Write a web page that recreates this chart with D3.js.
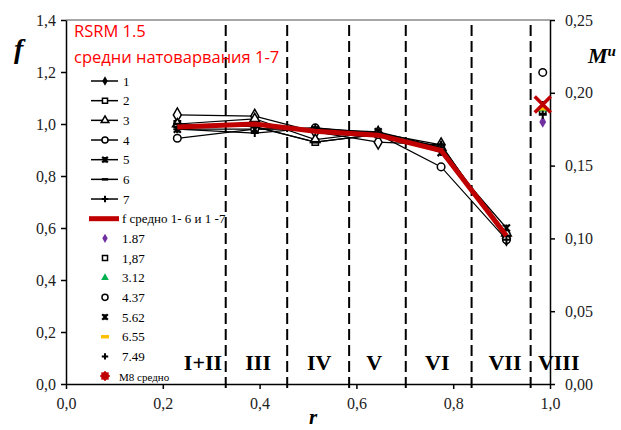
<!DOCTYPE html>
<html>
<head>
<meta charset="utf-8">
<script src="https://cdn.jsdelivr.net/npm/d3@7"></script>
<style>
  body { margin: 0; background: #fff; }
  svg { display: block; }
  .tick text { font-family: "Liberation Serif", "Times New Roman", serif; font-size: 16px; fill: #222; }
</style>
</head>
<body>
<div id="chart"></div>
<script>
// r positions of the measured sections
const rValues = [0.23, 0.39, 0.515, 0.645, 0.775, 0.91];

// f for loads 1..7
const s1 = [1.035, 1.03, 0.97, 0.93, 0.92, 0.56];
const s2 = [1.00, 0.99, 0.93, 0.96, 0.91, 0.57];
const s3 = [1.00, 1.02, 0.94, 0.97, 0.91, 0.58];
const s4 = [0.945, 0.98, 0.985, 0.96, 0.835, 0.555];
const s5 = [0.98, 0.98, 0.98, 0.97, 0.89, 0.60];
const s6 = [1.00, 0.99, 0.93, 0.96, 0.91, 0.57];
const s7 = [0.98, 0.965, 0.985, 0.965, 0.92, 0.555];
const fAvg = [0.988, 1.0, 0.972, 0.957, 0.898, 0.57];

const seriesNames = ["1", "2", "3", "4", "5", "6", "7"];
const seriesMarks = ["diamond", "square", "triangle", "circle", "xstar", "dash", "plus"];

// M8 (right axis)
const rM8 = 0.985;
const m8Names = ["1.87", "1,87", "3.12", "4.37", "5.62", "6.55", "7.49", "M8 средно"];
const m8Values = [0.180, 0.188, 0.189, 0.214, 0.192, 0.189, 0.185, 0.192];
const m8Marks = ["diamondF", "square", "triangleF", "circle", "xstar", "dashW", "plus", "bigx"];
const m8Colors = ["#7030a0", "#000", "#00b050", "#000", "#000", "#ffc000", "#000", "#c00000"];

// section borders and labels
const borders = [0.33, 0.457, 0.585, 0.702, 0.838, 0.96];
const zoneNames = ["I+II", "III", "IV", "V", "VI", "VII", "VIII"];
const zoneCenters = [0.283, 0.397, 0.523, 0.637, 0.767, 0.907, 1.018];

const xTicks = [0, 0.2, 0.4, 0.6, 0.8, 1.0];
const yTicks = [0, 0.2, 0.4, 0.6, 0.8, 1.0, 1.2, 1.4];
const y2Ticks = [0, 0.05, 0.10, 0.15, 0.20, 0.25];

const W = 621, H = 430;
const svg = d3.select("#chart").append("svg").attr("width", W).attr("height", H);

const x = d3.scaleLinear().domain([0, 1]).range([66, 550]);
const y = d3.scaleLinear().domain([0, 1.4]).range([384, 20]);
const y2 = d3.scaleLinear().domain([0, 0.25]).range([384, 20]);

const comma = (d, n) => d3.format("." + n + "f")(d).replace(".", ",");

// top border
svg.append("line").attr("x1", 66).attr("x2", 550).attr("y1", 20).attr("y2", 20)
  .attr("stroke", "#a6a6a6").attr("stroke-width", 2);

// section dashed lines
svg.append("g").selectAll("line").data(borders).join("line")
  .attr("x1", d => x(d)).attr("x2", d => x(d))
  .attr("y1", 25).attr("y2", 389)
  .attr("stroke", "#000").attr("stroke-width", 2)
  .attr("stroke-dasharray", "11,5");

// axes
const xAxis = svg.append("g").attr("transform", "translate(0,384)")
  .call(d3.axisBottom(x).tickValues(xTicks).tickSize(5).tickSizeOuter(0).tickPadding(9).tickFormat(d => comma(d, 1)));
const yAxis = svg.append("g").attr("transform", "translate(66,0)")
  .call(d3.axisLeft(y).tickValues(yTicks).tickSize(5).tickSizeOuter(0).tickPadding(5).tickFormat(d => comma(d, 1)));
const y2Axis = svg.append("g").attr("transform", "translate(550,0)")
  .call(d3.axisRight(y2).tickValues(y2Ticks).tickSize(5).tickSizeOuter(0).tickPadding(10).tickFormat(d => comma(d, 2)));
[xAxis, yAxis, y2Axis].forEach(a => {
  a.select(".domain").attr("stroke", "#000").attr("stroke-width", 1.5);
  a.selectAll(".tick line").attr("stroke", "#000").attr("stroke-width", 1.5);
});

// zone labels
svg.append("g").selectAll("text").data(zoneNames).join("text")
  .attr("x", (d, i) => x(zoneCenters[i])).attr("y", 370)
  .attr("text-anchor", "middle")
  .attr("font-family", "Liberation Serif, Times New Roman, serif")
  .attr("font-weight", "bold").attr("font-size", 22)
  .text(d => d);

// marker drawing
function marker(g, type, cx, cy, color, k) {
  k = k || 1;
  const p = g.append("g").attr("transform", `translate(${cx},${cy})`);
  const sym = (t, s) => p.append("path").attr("d", d3.symbol().type(t).size(s * k * k)());
  switch (type) {
    case "diamond":
      sym(d3.symbolDiamond, 55).attr("fill", "#fff").attr("stroke", color).attr("stroke-width", 1.5); break;
    case "diamondF":
      sym(d3.symbolDiamond, 40).attr("fill", color); break;
    case "square":
      sym(d3.symbolSquare, 40).attr("fill", "#fff").attr("stroke", color).attr("stroke-width", 1.5); break;
    case "triangle":
      sym(d3.symbolTriangle, 40).attr("fill", "#fff").attr("stroke", color).attr("stroke-width", 1.5); break;
    case "triangleF":
      sym(d3.symbolTriangle, 40).attr("fill", color); break;
    case "circle":
      sym(d3.symbolCircle, 45).attr("fill", "#fff").attr("stroke", color).attr("stroke-width", 1.5); break;
    case "xstar":
      p.append("path").attr("d", `M${-3.5*k},${-3.5*k}L${3.5*k},${3.5*k}M${-3.5*k},${3.5*k}L${3.5*k},${-3.5*k}M0,${-3.5*k}L0,${3.5*k}`)
        .attr("stroke", color).attr("stroke-width", 2.2); break;
    case "dash":
      p.append("path").attr("d", `M${-4*k},0L${4*k},0`).attr("stroke", color).attr("stroke-width", 2.5); break;
    case "dashW":
      p.append("path").attr("d", `M${-5*k},0L${5*k},0`).attr("stroke", color).attr("stroke-width", 3.5); break;
    case "plus":
      p.append("path").attr("d", `M${-4*k},0L${4*k},0M0,${-4*k}L0,${4*k}`).attr("stroke", color).attr("stroke-width", 2); break;
    case "bigx":
      p.append("path").attr("d", `M${-8*k},${-8*k}L${8*k},${8*k}M${-8*k},${8*k}L${8*k},${-8*k}`)
        .attr("stroke", color).attr("stroke-width", 3.5 * k); break;
    case "star":
      p.append("circle").attr("r", 4).attr("fill", color);
      p.append("path").attr("d", "M-5,0L5,0M0,-5L0,5M-3.5,-3.5L3.5,3.5M-3.5,3.5L3.5,-3.5").attr("stroke", color).attr("stroke-width", 1.5); break;
  }
  return p;
}

// load lines
const allSeries = [s1, s2, s3, s4, s5, s6, s7];
const line = d3.line().x((d, i) => x(rValues[i])).y(d => y(d));
const plot = svg.append("g");
allSeries.forEach(s => {
  plot.append("path").datum(s).attr("d", line)
    .attr("fill", "none").attr("stroke", "#000").attr("stroke-width", 1.2);
});
allSeries.forEach((s, j) => {
  s.forEach((v, i) => marker(plot, seriesMarks[j], x(rValues[i]), y(v), "#000"));
});

// average line
plot.append("path").datum(fAvg).attr("d", line)
  .attr("fill", "none").attr("stroke", "#c00000").attr("stroke-width", 5)
  .attr("stroke-linejoin", "round");

// M8 points
m8Values.forEach((v, i) => marker(plot, m8Marks[i], x(rM8), y2(v), m8Colors[i]));

// legend
const lg = svg.append("g");
const rowY = i => 81 + i * 19.67;
seriesNames.forEach((n, i) => {
  lg.append("line").attr("x1", 91).attr("x2", 118).attr("y1", rowY(i)).attr("y2", rowY(i))
    .attr("stroke", "#000").attr("stroke-width", 1.5);
  const t = seriesMarks[i] === "diamond" ? "diamondF" : seriesMarks[i];
  marker(lg, t, 105, rowY(i), "#000", 0.8);
  lg.append("text").attr("x", 123).attr("y", rowY(i) + 4.5)
    .attr("font-family", "Liberation Serif, Times New Roman, serif").attr("font-size", 13).text(n);
});
lg.append("line").attr("x1", 89).attr("x2", 119).attr("y1", rowY(7)).attr("y2", rowY(7))
  .attr("stroke", "#c00000").attr("stroke-width", 5);
lg.append("text").attr("x", 122).attr("y", rowY(7) + 4.5)
  .attr("font-family", "Liberation Serif, Times New Roman, serif").attr("font-size", 13)
  .text("f средно 1- 6 и 1 -7");
m8Names.forEach((n, i) => {
  const yy = rowY(8 + i);
  const t = m8Marks[i] === "bigx" ? "star" : m8Marks[i];
  marker(lg, t, 105, yy, m8Colors[i], 0.8);
  lg.append("text").attr("x", i === 7 ? 119 : 122).attr("y", yy + 4.5)
    .attr("font-family", "Liberation Serif, Times New Roman, serif")
    .attr("font-size", i === 7 ? 11 : 13).text(n);
});

// title
const title = svg.append("g").attr("fill", "#ff0000")
  .attr("font-family", "Open Sans, Noto Sans, sans-serif").attr("font-size", 16.5);
title.append("text").attr("x", 74).attr("y", 37).text("RSRM 1.5");
title.append("text").attr("x", 74).attr("y", 63).text("средни натоварвания 1-7");

// axis titles
svg.append("text").attr("x", 14).attr("y", 58)
  .attr("font-family", "Liberation Serif, Times New Roman, serif")
  .attr("font-style", "italic").attr("font-weight", "bold").attr("font-size", 28).text("f");
const mu = svg.append("text").attr("x", 588).attr("y", 63)
  .attr("font-family", "Liberation Serif, Times New Roman, serif")
  .attr("font-style", "italic").attr("font-weight", "bold").attr("font-size", 22);
mu.append("tspan").text("M");
mu.append("tspan").attr("font-size", 15).attr("dy", -7).text("u");
svg.append("text").attr("x", 313).attr("y", 424).attr("text-anchor", "middle")
  .attr("font-family", "Liberation Serif, Times New Roman, serif")
  .attr("font-style", "italic").attr("font-weight", "bold").attr("font-size", 21).text("r");
</script>
</body>
</html>
